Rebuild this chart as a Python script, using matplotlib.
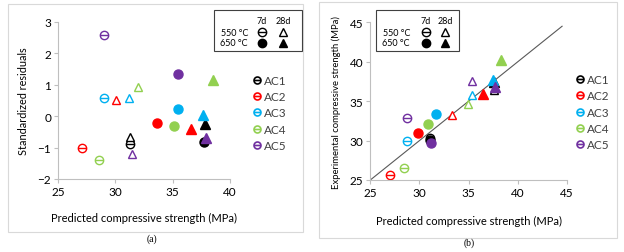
import matplotlib
matplotlib.use("Agg")
import matplotlib.pyplot as plt
from matplotlib.path import Path
from matplotlib.lines import Line2D
from matplotlib.patches import Rectangle

plt.rcParams["font.family"] = ["Lato", "DejaVu Sans"]

# series order: AC1..AC5
groups = ["AC1", "AC2", "AC3", "AC4", "AC5"]
colors = ["#000000", "#ff0000", "#00b0f0", "#92d050", "#7030a0"]

# (a) standardized residuals vs predicted strength
a_pred_550_7d = [31.26, 27.13, 29.02, 28.58, 29.02]
a_res_550_7d = [-0.88, -1.01, 0.58, -1.39, 2.59]
a_pred_550_28d = [31.26, 30.10, 31.15, 31.99, 31.44]
a_res_550_28d = [-0.68, 0.52, 0.59, 0.94, -1.22]
a_pred_650_7d = [37.73, 33.65, 35.50, 35.08, 35.50]
a_res_650_7d = [-0.83, -0.21, 0.22, -0.32, 1.34]
a_pred_650_28d = [37.82, 36.62, 37.67, 38.49, 37.90]
a_res_650_28d = [-0.24, -0.40, 0.02, 1.14, -0.70]

# (b) experimental vs predicted strength
b_pred_550_7d = [31.10, 26.97, 28.73, 28.39, 28.73]
b_exp_550_7d = [30.30, 25.63, 29.90, 26.56, 32.87]
b_pred_550_28d = [37.58, 33.34, 35.30, 34.90, 35.30]
b_exp_550_28d = [36.40, 33.20, 35.80, 34.60, 37.50]
b_pred_650_7d = [31.07, 29.88, 31.70, 30.85, 31.17]
b_exp_650_7d = [30.10, 30.90, 33.38, 32.10, 29.69]
b_pred_650_28d = [37.60, 36.43, 37.45, 38.29, 37.69]
b_exp_650_28d = [37.40, 35.90, 37.73, 40.20, 36.80]

# circle with a bar through it, like the excel markers
theta = Path.make_compound_path(Path.unit_circle(),
                                Path([[-1, 0], [1, 0]], [Path.MOVETO, Path.LINETO]))

fig = plt.figure(figsize=(6.24, 2.53), dpi=100)

# light frames round each panel
fig.patches.append(Rectangle((8 / 624, 1 - 233 / 253), 295 / 624, 228 / 253,
                             transform=fig.transFigure, fill=False, ec="#d9d9d9", lw=0.8))
fig.patches.append(Rectangle((319 / 624, 1 - 239 / 253), 298 / 624, 236 / 253,
                             transform=fig.transFigure, fill=False, ec="#d9d9d9", lw=0.8))


def draw_series(ax, x1, y1, x2, y2, x3, y3, x4, y4):
    for i, c in enumerate(colors):
        ax.plot(x1[i], y1[i], ls="none", marker=theta, ms=6, mfc="none", mec=c, mew=1.0)
        ax.plot(x2[i], y2[i], ls="none", marker="^", ms=6, mfc="white", mec=c, mew=1.0)
        ax.plot(x3[i], y3[i], ls="none", marker="o", ms=6.5, mfc=c, mec=c)
        ax.plot(x4[i], y4[i], ls="none", marker="^", ms=6.5, mfc=c, mec=c)


def style_axes(ax):
    for s in ["top", "right"]:
        ax.spines[s].set_visible(False)
    for s in ["left", "bottom"]:
        ax.spines[s].set_color("#bfbfbf")
        ax.spines[s].set_linewidth(0.8)
    ax.tick_params(length=3, width=0.8, color="#bfbfbf", labelsize=8.5, pad=2)


def group_legend(ax, anchor):
    handles = [Line2D([], [], ls="none", marker=theta, ms=5, mfc="none", mec=c, mew=1.2)
               for c in colors]
    ax.legend(handles, groups, loc="center left", bbox_to_anchor=anchor, frameon=False,
              fontsize=8.5, handlelength=0.6, handletextpad=0.3, labelspacing=0.45,
              borderpad=0, labelcolor="#404040")


def key_box(x0, x1, y0, y1, xl, xc1, xc2):
    # marker key: temperature rows, curing age columns
    fig.patches.append(Rectangle((x0 / 624, 1 - y1 / 253), (x1 - x0) / 624, (y1 - y0) / 253,
                                 transform=fig.transFigure, fill=False, ec="#404040", lw=0.8))
    fig.text(xc1 / 624, 1 - 21 / 253, "7d", ha="center", va="center", fontsize=6.5)
    fig.text(xc2 / 624, 1 - 21 / 253, "28d", ha="center", va="center", fontsize=6.5)
    fig.text(xl / 624, 1 - 33 / 253, "550 °C", ha="right", va="center", fontsize=6.5)
    fig.text(xl / 624, 1 - 44 / 253, "650 °C", ha="right", va="center", fontsize=6.5)
    keys = [(xc1, 33, theta, "none"), (xc2, 33, "^", "white"),
            (xc1, 44, "o", "k"), (xc2, 44, "^", "k")]
    for kx, ky, m, fc in keys:
        fig.add_artist(Line2D([kx / 624], [1 - ky / 253], transform=fig.transFigure,
                              marker=m, ms=6, mfc=fc, mec="k", mew=1.0, ls="none"))


# (a)
ax1 = fig.add_axes([58 / 624, 1 - 180 / 253, 172 / 624, 157.3 / 253])
draw_series(ax1, a_pred_550_7d, a_res_550_7d, a_pred_550_28d, a_res_550_28d,
            a_pred_650_7d, a_res_650_7d, a_pred_650_28d, a_res_650_28d)
ax1.set_xlim(25, 40)
ax1.set_ylim(-2, 3)
ax1.set_xticks([25, 30, 35, 40])
ax1.set_yticks([-2, -1, 0, 1, 2, 3])
ax1.set_xlabel("Predicted compressive strength (MPa)", fontsize=8, labelpad=11)
ax1.set_ylabel("Standardized residuals", fontsize=7.8, labelpad=6)
style_axes(ax1)
group_legend(ax1, (1.1, 0.42))
key_box(214, 302, 11, 52, 248, 262, 283)

# (b)
ax2 = fig.add_axes([370.3 / 624, 1 - 181 / 253, 196.7 / 624, 157.7 / 253])
draw_series(ax2, b_pred_550_7d, b_exp_550_7d, b_pred_550_28d, b_exp_550_28d,
            b_pred_650_7d, b_exp_650_7d, b_pred_650_28d, b_exp_650_28d)
ax2.plot([25, 44.5], [25, 44.5], color="#595959", lw=0.8, zorder=1)
ax2.set_xlim(25, 45)
ax2.set_ylim(25, 45)
ax2.set_xticks([25, 30, 35, 40, 45])
ax2.set_yticks([25, 30, 35, 40, 45])
ax2.set_xlabel("Predicted compressive strength (MPa)", fontsize=8, labelpad=12)
ax2.set_ylabel("Experimental compressive strength (MPa)", fontsize=6.8, labelpad=6)
style_axes(ax2)
group_legend(ax2, (1.02, 0.43))
key_box(376, 459, 11, 52, 410, 426, 445)

fig.text(152 / 624, 1 - 239 / 253, "(a)", ha="center", va="center", fontsize=7,
         family="Liberation Serif")
fig.text(469 / 624, 1 - 243 / 253, "(b)", ha="center", va="center", fontsize=7,
         family="Liberation Serif")

fig.savefig("out.png", dpi=100)
